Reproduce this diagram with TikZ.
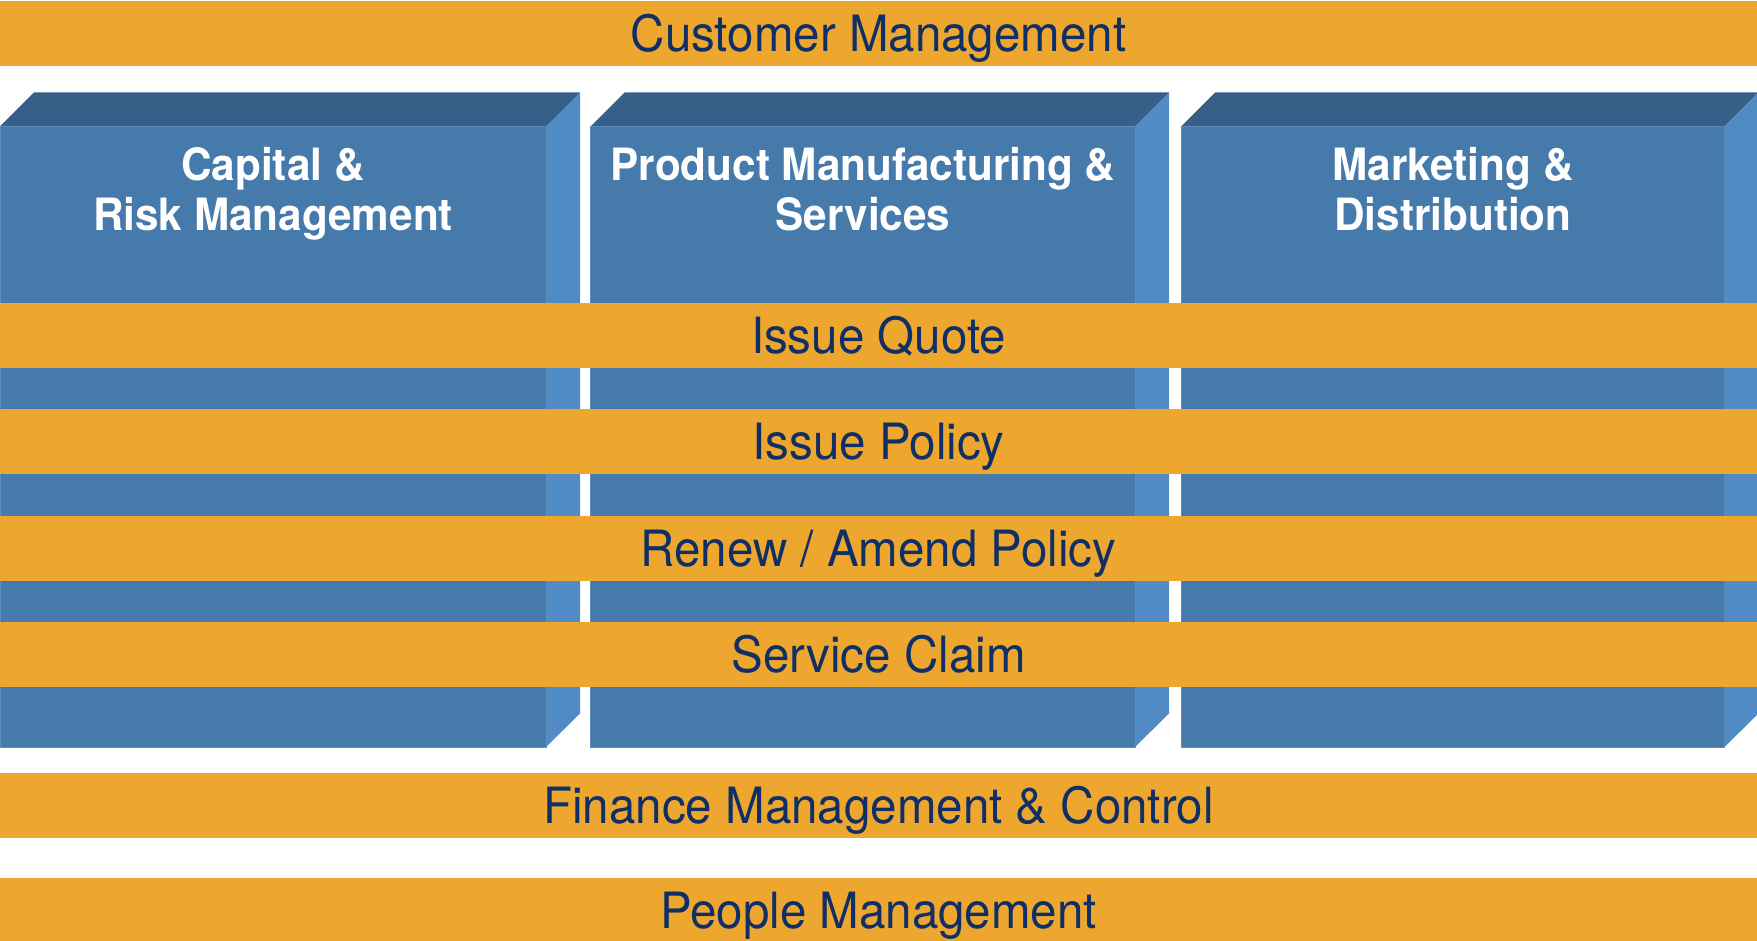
\documentclass[tikz,border=0pt]{standalone}
\usepackage{fontspec}
\setmainfont{TeX Gyre Heros}
\newfontfamily\condfont[FakeStretch=0.95]{TeX Gyre Heros}
\definecolor{orng}{HTML}{EDA72F}
\definecolor{navy}{HTML}{0F2F66}
\definecolor{bfront}{HTML}{467AAB}
\definecolor{btop}{HTML}{366087}
\definecolor{bside}{HTML}{508BC6}
\definecolor{bedge}{HTML}{5B8DC0}
\begin{document}
\begin{tikzpicture}[x=1pt,y=-1pt,
  bar/.style={fill=orng, minimum width=1757pt, minimum height=65pt, inner sep=0pt,
    text height=36pt, text depth=0pt, font=\condfont\fontsize{50}{52}\selectfont, text=navy},
  title/.style={anchor=north, inner sep=0pt, align=center, text=white,
    font=\condfont\bfseries\fontsize{44.5}{50}\selectfont},
  front/.style={fill=bfront, draw=bedge, line width=0.8pt},
  topf/.style={fill=btop},
  sidef/.style={fill=bside}]
\useasboundingbox (0,0) rectangle (1757,941);
\clip (0,0) rectangle (1757,941);
% column blocks
\foreach \l/\r in {0/546, 590.5/1135, 1181/1724.5}{
  \fill[topf] (\l,126.5) -- ({\l+34},92.5) -- ({\r+34},92.5) -- (\r,126.5) -- cycle;
  \fill[sidef] (\r,126.5) -- ({\r+34},92.5) -- ({\r+34},713.5) -- (\r,747) -- cycle;
  \filldraw[front] (\l,126.5) rectangle (\r,747);
}
\node[title] (cap) at (273,147.5) {Capital \&\\Risk Management};
\node[title] (prod) at (863,147.5) {Product Manufacturing \&\\Services};
\node[title] (mkt) at (1453,147.5) {Marketing \&\\Distribution};
% horizontal bars
\node[bar] (cust) at (878.5,33.5) {Customer Management};
\node[bar] (quote) at (878.5,335.5) {Issue Quote};
\node[bar] (policy) at (878.5,441.5) {Issue Policy};
\node[bar] (renew) at (878.5,548) {Renew / Amend Policy};
\node[bar] (claim) at (878.5,654) {Service Claim};
\node[bar] (fin) at (878.5,805) {Finance Management \& Control};
\node[bar] (people) at (878.5,910.5) {People Management};
\end{tikzpicture}
\end{document}
